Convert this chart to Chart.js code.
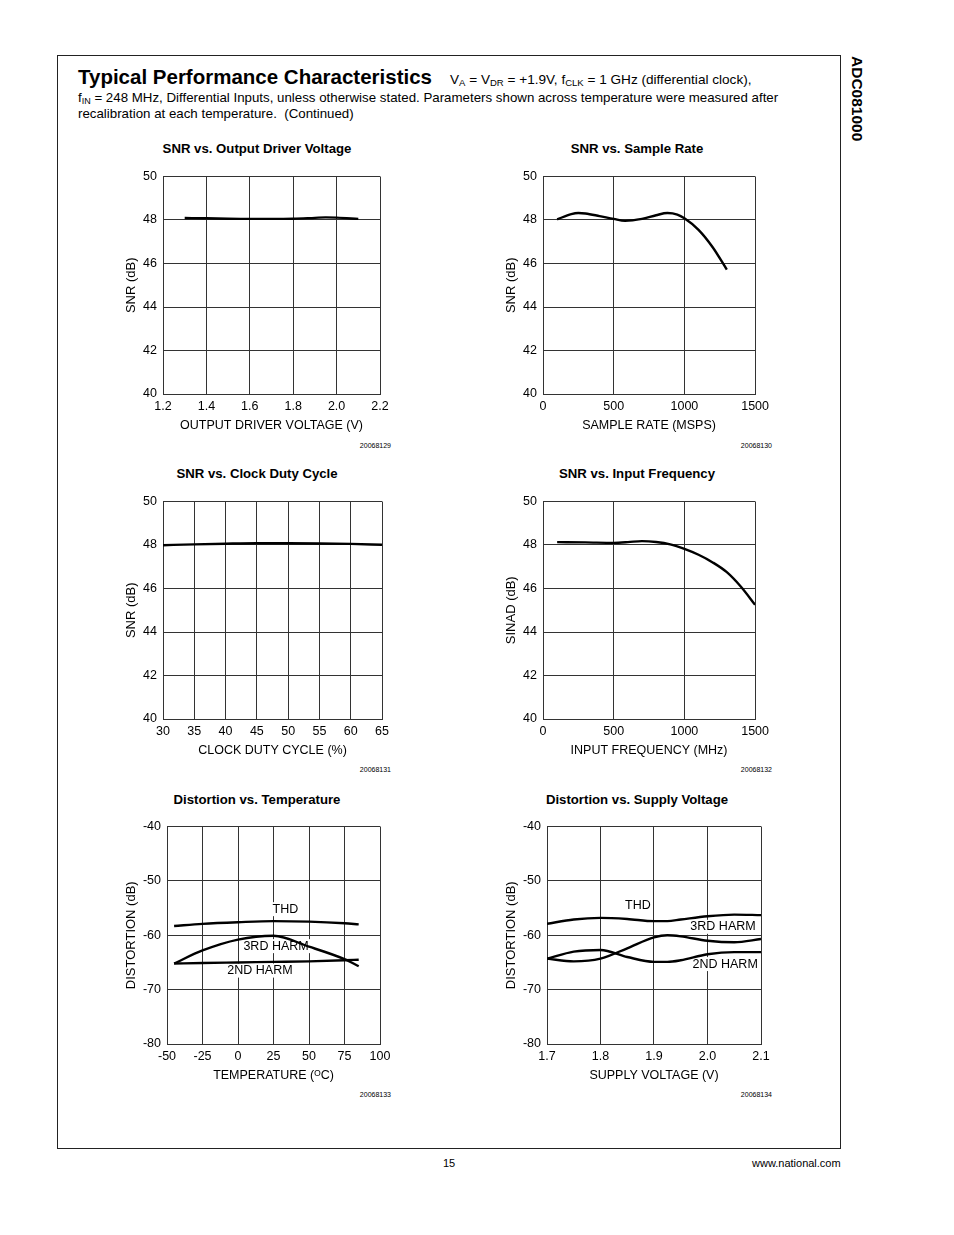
<!DOCTYPE html>
<html>
<head>
<meta charset="utf-8">
<script src="https://cdn.jsdelivr.net/npm/chart.js@4.4.1/dist/chart.umd.min.js"></script>
<style>
  body { margin: 0; width: 954px; height: 1235px; position: relative; background: #fff; color: #000;
         font-family: "Liberation Sans", Arial, Helvetica, sans-serif; overflow: hidden; }
  #frame { position: absolute; left: 57px; top: 55px; width: 784px; height: 1094px; border: 1px solid #222; box-sizing: border-box; }
  .abs { position: absolute; white-space: nowrap; }
  #head { left: 78px; top: 64px; line-height: 26px; }
  #head .big { font-size: 20.5px; font-weight: bold; }
  #head .sm { font-size: 13.6px; margin-left: 18px; }
  #head .sm sub { font-size: 9.5px; }
  .txt { font-size: 13.3px; line-height: 16px; left: 78px; }
  sub { font-size: 9px; vertical-align: -2px; line-height: 0; }
  .ctitle { font-size: 13.2px; font-weight: bold; line-height: 16px; width: 240px; text-align: center; }
  .fig { font-size: 7px; line-height: 10px; text-align: right; width: 60px; }
  #side { left: 848px; top: 56px; font-size: 15.5px; font-weight: bold; writing-mode: vertical-rl; }
  canvas { position: absolute; }
</style>
</head>
<body>
<div id="frame"></div>
<div id="head" class="abs"><span class="big">Typical Performance Characteristics</span><span class="sm">V<sub>A</sub> = V<sub>DR</sub> = +1.9V, f<sub>CLK</sub> = 1 GHz (differential clock),</span></div>
<div class="abs txt" style="top:90px">f<sub>IN</sub> = 248 MHz, Differential Inputs, unless otherwise stated. Parameters shown across temperature were measured after</div>
<div class="abs txt" style="top:106px">recalibration at each temperature. &nbsp;(Continued)</div>
<div id="side" class="abs">ADC081000</div>

<div class="abs ctitle" style="left:137px; top:141px">SNR vs. Output Driver Voltage</div>
<div class="abs ctitle" style="left:517px; top:141px">SNR vs. Sample Rate</div>
<div class="abs ctitle" style="left:137px; top:466px">SNR vs. Clock Duty Cycle</div>
<div class="abs ctitle" style="left:517px; top:466px">SNR vs. Input Frequency</div>
<div class="abs ctitle" style="left:137px; top:792px">Distortion vs. Temperature</div>
<div class="abs ctitle" style="left:517px; top:792px">Distortion vs. Supply Voltage</div>

<div class="abs fig" style="left:331px; top:441px">20068129</div>
<div class="abs fig" style="left:712px; top:441px">20068130</div>
<div class="abs fig" style="left:331px; top:765px">20068131</div>
<div class="abs fig" style="left:712px; top:765px">20068132</div>
<div class="abs fig" style="left:331px; top:1090px">20068133</div>
<div class="abs fig" style="left:712px; top:1090px">20068134</div>

<div class="abs" style="left:443px; top:1157px; font-size:11px">15</div>
<div class="abs" style="left:752px; top:1157px; font-size:11px; width:88px; text-align:right">www.national.com</div>

<canvas id="c1"></canvas>
<canvas id="c2"></canvas>
<canvas id="c3"></canvas>
<canvas id="c4"></canvas>
<canvas id="c5"></canvas>
<canvas id="c6"></canvas>

<script>
// SNR vs. Output Driver Voltage
const drvVolt = [1.3, 1.4, 1.5, 1.6, 1.7, 1.8, 1.9, 1.95, 2.0, 2.1];
const drvSnr  = [48.09, 48.08, 48.06, 48.05, 48.05, 48.06, 48.1, 48.12, 48.11, 48.05];

// SNR vs. Sample Rate
const rateMsps = [100, 200, 250, 300, 400, 500, 580, 700, 800, 880, 950, 1000, 1100, 1200, 1300];
const rateSnr  = [48.03, 48.27, 48.32, 48.3, 48.18, 48.05, 47.96, 48.05, 48.22, 48.32, 48.25, 48.08, 47.55, 46.75, 45.72];

// SNR vs. Clock Duty Cycle
const dutyPct = [30, 35, 40, 45, 50, 55, 60, 65];
const dutySnr = [47.99, 48.03, 48.06, 48.08, 48.08, 48.07, 48.05, 48.01];

// SNR (SINAD) vs. Input Frequency
const finMhz   = [100, 300, 500, 600, 700, 800, 900, 1000, 1100, 1200, 1300, 1400, 1500];
const finSinad = [48.13, 48.12, 48.1, 48.13, 48.18, 48.14, 48.03, 47.82, 47.55, 47.2, 46.75, 46.08, 45.25];

// Distortion vs. Temperature
const tempC   = [-45, -25, 0, 25, 50, 75, 85];
const tempThd = [-58.3, -57.9, -57.6, -57.4, -57.5, -57.8, -58.0];
const temp3rd = [-65.2, -62.8, -60.8, -60.1, -62.1, -64.4, -65.7];
const temp2nd = [-65.2, -65.1, -65.0, -64.9, -64.8, -64.6, -64.5];

// Distortion vs. Supply Voltage
const supV   = [1.7, 1.75, 1.8, 1.85, 1.9, 1.925, 1.95, 2.0, 2.05, 2.1];
const supThd = [-57.9, -57.1, -56.8, -57.0, -57.4, -57.4, -57.1, -56.5, -56.2, -56.3];
const sup3rd = [-64.3, -64.8, -64.3, -62.4, -60.4, -60.0, -60.2, -61.0, -61.3, -60.7];
const sup2nd = [-64.3, -63.0, -62.7, -64.0, -64.9, -64.9, -64.6, -63.5, -63.1, -63.1];

Chart.defaults.font.family = '"Liberation Sans", Arial, Helvetica, sans-serif';
Chart.defaults.color = '#000';

const Y_W = 52, X_H = 42, PAD_T = 10, PAD_R = 16;

// in-plot text labels (THD, 3RD HARM ...) with a white box behind them
const textLabels = {
  id: 'textLabels',
  beforeDatasetsDraw(chart, args, opts) {
    const items = opts.items || [];
    const ctx = chart.ctx;
    ctx.save();
    ctx.font = '12.5px "Liberation Sans", Arial, sans-serif';
    ctx.textAlign = 'center';
    ctx.textBaseline = 'middle';
    items.forEach(it => {
      const px = chart.scales.x.getPixelForValue(it.x);
      const py = chart.scales.y.getPixelForValue(it.y);
      const w = ctx.measureText(it.text).width;
      ctx.fillStyle = '#fff';
      ctx.fillRect(px - w / 2 - 2, py - 7, w + 4, 14);
      ctx.fillStyle = '#000';
      ctx.fillText(it.text, px, py);
    });
    ctx.restore();
  }
};

function pts(xs, ys) {
  return xs.map((v, i) => ({ x: v, y: ys[i] }));
}

function makeChart(id, plot, ax, series, labels) {
  const cv = document.getElementById(id);
  const w = plot.w + Y_W + PAD_R, h = plot.h + PAD_T + X_H;
  cv.width = w; cv.height = h;
  cv.style.left = (plot.x - Y_W) + 'px';
  cv.style.top = (plot.y - PAD_T) + 'px';
  cv.style.width = w + 'px'; cv.style.height = h + 'px';

  const grid = { color: '#333', lineWidth: 1, drawTicks: false };
  new Chart(cv, {
    type: 'line',
    data: {
      datasets: series.map(s => ({
        data: s,
        borderColor: '#000',
        borderWidth: 2.4,
        pointRadius: 0,
        cubicInterpolationMode: 'monotone',
        fill: false
      }))
    },
    options: {
      responsive: false,
      animation: false,
      layout: { padding: { top: PAD_T, right: PAD_R, left: 0, bottom: 0 } },
      plugins: { legend: { display: false }, tooltip: { enabled: false }, textLabels: { items: labels } },
      scales: {
        x: {
          type: 'linear', min: ax.xMin, max: ax.xMax,
          grid: grid,
          border: { color: '#333', width: 1 },
          ticks: { stepSize: ax.xStep, padding: 5, font: { size: 12.5 }, maxRotation: 0, autoSkip: false,
                   callback: v => v.toFixed(ax.xDec) },
          title: { display: true, text: ax.xTitle, font: { size: 12.5 }, padding: { top: 0, bottom: 2.5 } },
          afterFit: s => { s.height = X_H; }
        },
        y: {
          type: 'linear', min: ax.yMin, max: ax.yMax,
          grid: grid,
          border: { color: '#333', width: 1 },
          ticks: { stepSize: ax.yStep, padding: 6, font: { size: 12.5 }, autoSkip: false },
          title: { display: true, text: ax.yTitle, font: { size: 13 }, padding: { top: ax.yTitlePad, bottom: 0 } },
          afterFit: s => { s.width = Y_W; }
        }
      }
    },
    plugins: [textLabels]
  });
}

makeChart('c1', { x: 163, y: 173, w: 217, h: 221 },
  { xMin: 1.2, xMax: 2.2, xStep: 0.2, xDec: 1, yMin: 40, yMax: 50, yStep: 2,
    xTitle: 'OUTPUT DRIVER VOLTAGE (V)', yTitle: 'SNR (dB)', yTitlePad: 12.2 },
  [pts(drvVolt, drvSnr)], []);

makeChart('c2', { x: 543, y: 173, w: 215, h: 221 },
  { xMin: 0, xMax: 1500, xStep: 500, xDec: 0, yMin: 40, yMax: 50, yStep: 2,
    xTitle: 'SAMPLE RATE (MSPS)', yTitle: 'SNR (dB)', yTitlePad: 12.2 },
  [pts(rateMsps, rateSnr)], []);

makeChart('c3', { x: 163, y: 498, w: 219, h: 221 },
  { xMin: 30, xMax: 65, xStep: 5, xDec: 0, yMin: 40, yMax: 50, yStep: 2,
    xTitle: 'CLOCK DUTY CYCLE (%)', yTitle: 'SNR (dB)', yTitlePad: 12.2 },
  [pts(dutyPct, dutySnr)], []);

makeChart('c4', { x: 543, y: 498, w: 215, h: 221 },
  { xMin: 0, xMax: 1500, xStep: 500, xDec: 0, yMin: 40, yMax: 50, yStep: 2,
    xTitle: 'INPUT FREQUENCY (MHz)', yTitle: 'SINAD (dB)', yTitlePad: 12.2 },
  [pts(finMhz, finSinad)], []);

makeChart('c5', { x: 167, y: 823, w: 213, h: 221 },
  { xMin: -50, xMax: 100, xStep: 25, xDec: 0, yMin: -80, yMax: -40, yStep: 10,
    xTitle: 'TEMPERATURE (\u1D3CC)', yTitle: 'DISTORTION (dB)', yTitlePad: 8.2 },
  [pts(tempC, tempThd), pts(tempC, temp3rd), pts(tempC, temp2nd)],
  [{ text: 'THD', x: 33.4, y: -55.2 }, { text: '3RD HARM', x: 26.8, y: -62.0 }, { text: '2ND HARM', x: 15.5, y: -66.5 }]);

makeChart('c6', { x: 547, y: 823, w: 214, h: 221 },
  { xMin: 1.7, xMax: 2.1, xStep: 0.1, xDec: 1, yMin: -80, yMax: -40, yStep: 10,
    xTitle: 'SUPPLY VOLTAGE (V)', yTitle: 'DISTORTION (dB)', yTitlePad: 8.2 },
  [pts(supV, supThd), pts(supV, sup3rd), pts(supV, sup2nd)],
  [{ text: 'THD', x: 1.87, y: -54.5 }, { text: '3RD HARM', x: 2.029, y: -58.45 }, { text: '2ND HARM', x: 2.033, y: -65.3 }]);
</script>
</body>
</html>
